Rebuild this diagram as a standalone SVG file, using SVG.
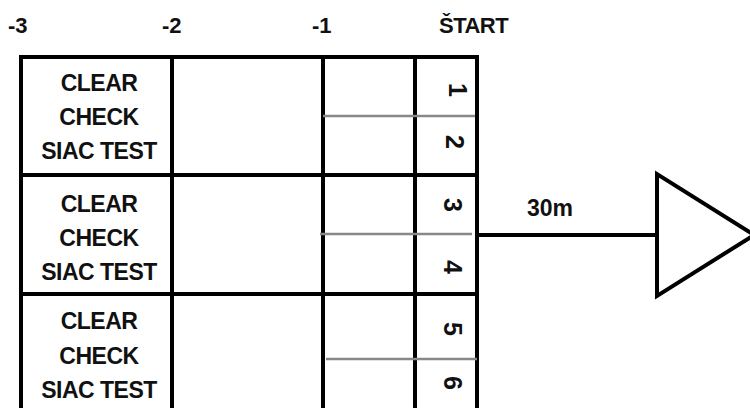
<svg xmlns="http://www.w3.org/2000/svg" width="750" height="408" viewBox="0 0 750 408">
<style>
.t{font-family:"Liberation Sans",Arial,sans-serif;font-weight:bold;font-size:23px;fill:#111}
.h{font-size:22px}
.c{text-anchor:middle;letter-spacing:-0.5px}
.n{font-family:"Liberation Sans",Arial,sans-serif;font-weight:bold;font-size:25px;fill:#111;text-anchor:middle;dominant-baseline:central}
.k{stroke:#000;stroke-width:4;fill:none}
.g{stroke:#888;stroke-width:2.5}
</style>
<rect width="750" height="408" fill="#fff"/>
<g id="headers">
<text class="t h" x="8" y="33">-3</text>
<text class="t h" x="162" y="33">-2</text>
<text class="t h" x="312" y="33">-1</text>
<text class="t h" x="439" y="33" letter-spacing="-0.5">ŠTART</text>
</g>
<g id="row1">
<rect class="k" x="21" y="57" width="456" height="118"/>
<text class="t c" x="99" y="91">CLEAR</text>
<text class="t c" x="99" y="125">CHECK</text>
<text class="t c" x="99" y="159">SIAC TEST</text>
<text class="n" transform="translate(458,90) rotate(90)">1</text>
<text class="n" transform="translate(455,142) rotate(90)">2</text>
</g>
<g id="row2">
<rect class="k" x="21" y="175" width="456" height="119"/>
<text class="t c" x="99" y="212">CLEAR</text>
<text class="t c" x="99" y="246">CHECK</text>
<text class="t c" x="99" y="280">SIAC TEST</text>
<text class="n" transform="translate(453,205) rotate(90)">3</text>
<text class="n" transform="translate(453,267) rotate(90)">4</text>
</g>
<g id="row3">
<rect class="k" x="21" y="294" width="456" height="130"/>
<text class="t c" x="99" y="329">CLEAR</text>
<text class="t c" x="99" y="364">CHECK</text>
<text class="t c" x="99" y="398">SIAC TEST</text>
<text class="n" transform="translate(453,329) rotate(90)">5</text>
<text class="n" transform="translate(453,383) rotate(90)">6</text>
</g>
<g id="columns">
<line class="k" x1="172" y1="57" x2="172" y2="420"/>
<line class="k" x1="323" y1="57" x2="323" y2="420"/>
<line class="k" x1="415" y1="57" x2="415" y2="420"/>
</g>
<g id="connectors">
<line class="g" x1="323" y1="116" x2="475" y2="116"/>
<line class="g" x1="320" y1="234" x2="472" y2="234"/>
<line class="g" x1="326" y1="359" x2="477" y2="359"/>
<line class="k" x1="477" y1="235" x2="657" y2="235"/>
</g>
<g id="label30m">
<text class="t" x="527" y="216" font-size="22">30m</text>
</g>
<g id="triangle">
<polygon class="k" points="657,174 657,296 754,235"/>
</g>
</svg>
